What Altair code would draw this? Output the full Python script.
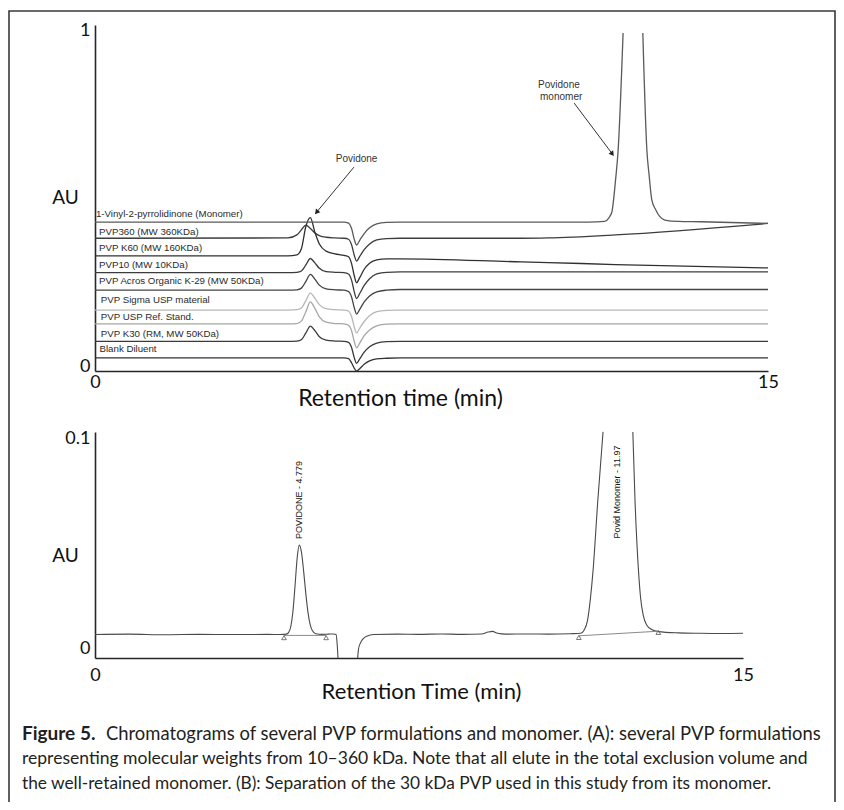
import altair as alt
import pandas as pd

# ---------------- Panel A : several PVP formulations ----------------
TRACE_LABELS = [
    "1-Vinyl-2-pyrrolidinone (Monomer)",
    "PVP360 (MW 360KDa)",
    "PVP K60 (MW 160KDa)",
    "PVP10 (MW 10KDa)",
    "PVP Acros Organic K-29 (MW 50KDa)",
    "PVP Sigma USP material",
    "PVP USP Ref. Stand.",
    "PVP K30 (RM, MW 50KDa)",
    "Blank Diluent",
]
TRACE_COLORS = ["#5a5a5a", "#3c3c3c", "#303030", "#3c3c3c", "#444444",
                "#b8b8b8", "#a6a6a6", "#3a3a3a", "#333333"]
LABEL_T = [0.02, 0.09, 0.09, 0.09, 0.09, 0.13, 0.13, 0.13, 0.10]
LABEL_AU = [0.454, 0.401, 0.353, 0.303, 0.255, 0.199, 0.148, 0.098, 0.053]

# shared retention-time grid (min) for the PVP traces
T_A = [0.0, 4.30, 4.50, 4.60, 4.70, 4.80, 4.90, 5.00, 5.15, 5.35, 5.55, 5.65, 5.72,
       5.78, 5.83, 5.90, 6.00, 6.12, 6.28, 6.50, 6.80, 9.50, 10.1, 11.6, 15.0]
PVP360 = [0.382, 0.383, 0.392, 0.407, 0.421, 0.411, 0.398, 0.390, 0.385, 0.383, 0.382, 0.379, 0.362,
          0.331, 0.314, 0.328, 0.348, 0.365, 0.377, 0.381, 0.382, 0.382, 0.383, 0.392, 0.426]
K60 = [0.330, 0.330, 0.333, 0.351, 0.417, 0.443, 0.400, 0.365, 0.344, 0.336, 0.331, 0.327, 0.306,
       0.270, 0.250, 0.265, 0.290, 0.308, 0.318, 0.321, 0.321, 0.312, 0.310, 0.304, 0.294]
PVP10 = [0.280, 0.280, 0.281, 0.285, 0.303, 0.322, 0.309, 0.293, 0.283, 0.281, 0.280, 0.276, 0.257,
         0.222, 0.203, 0.218, 0.242, 0.262, 0.276, 0.281, 0.282, 0.282, 0.282, 0.282, 0.282]
ACROS = [0.228, 0.228, 0.229, 0.234, 0.254, 0.275, 0.261, 0.243, 0.232, 0.229, 0.228, 0.224, 0.207,
         0.175, 0.157, 0.171, 0.193, 0.211, 0.223, 0.228, 0.230, 0.230, 0.230, 0.230, 0.230]
SIGMA = [0.169, 0.169, 0.170, 0.175, 0.197, 0.219, 0.204, 0.185, 0.173, 0.170, 0.169, 0.166, 0.149,
         0.118, 0.101, 0.115, 0.135, 0.152, 0.164, 0.168, 0.169, 0.169, 0.169, 0.169, 0.169]
USP = [0.128, 0.128, 0.129, 0.136, 0.164, 0.193, 0.174, 0.149, 0.133, 0.129, 0.128, 0.124, 0.107,
       0.075, 0.057, 0.071, 0.093, 0.110, 0.122, 0.127, 0.128, 0.128, 0.128, 0.128, 0.128]
K30 = [0.076, 0.076, 0.077, 0.081, 0.101, 0.121, 0.108, 0.090, 0.080, 0.077, 0.076, 0.073, 0.057,
       0.027, 0.011, 0.024, 0.044, 0.060, 0.071, 0.075, 0.076, 0.076, 0.076, 0.076, 0.076]
BLANK = [0.027, 0.027, 0.027, 0.027, 0.027, 0.027, 0.027, 0.027, 0.027, 0.027, 0.027, 0.025, 0.012,
         -0.004, -0.012, -0.005, 0.008, 0.018, 0.024, 0.026, 0.027, 0.027, 0.027, 0.027, 0.027]

# monomer trace: rising side (cut at the top) and falling side
MONO_T1 = [0.0, 5.55, 5.65, 5.72, 5.78, 5.83, 5.90, 6.00, 6.12, 6.28, 6.50, 6.80,
           11.0, 11.36, 11.45, 11.52, 11.60, 11.66, 11.77]
MONO_V1 = [0.430, 0.430, 0.427, 0.410, 0.378, 0.362, 0.376, 0.396, 0.413, 0.425, 0.429, 0.430,
           0.430, 0.432, 0.442, 0.460, 0.552, 0.644, 0.991]
MONO_T2 = [12.21, 12.30, 12.35, 12.41, 12.50, 12.59, 12.70, 13.00, 13.50, 15.0]
MONO_V2 = [0.991, 0.644, 0.570, 0.496, 0.466, 0.446, 0.436, 0.432, 0.431, 0.426]

ANN_TEXT = ["Povidone", "Povidone", "monomer"]
ANN_T = [5.83, 10.34, 10.39]
ANN_AU = [0.617, 0.837, 0.801]
ARROW_T = [5.77, 10.68]
ARROW_AU = [0.593, 0.783]
ARROW_T2 = [4.95, 11.52]
ARROW_AU2 = [0.461, 0.634]
ARROW_ANGLE = [220, 143]

# ---------------- Panel B : 30 kDa PVP and its monomer ----------------
B_T1 = [0.0, 0.8, 1.6, 2.4, 3.2, 4.0, 4.30, 4.43, 4.48, 4.53, 4.58, 4.63, 4.68, 4.73, 4.78,
        4.83, 4.88, 4.93, 4.98, 5.03, 5.11, 5.25, 5.40, 5.52, 5.58, 5.605, 5.625]
B_V1 = [0.0064, 0.0066, 0.0063, 0.0065, 0.0064, 0.0065, 0.0064, 0.0066, 0.0073, 0.0100, 0.0170,
        0.0294, 0.0429, 0.0490, 0.0455, 0.0365, 0.0259, 0.0170, 0.0113, 0.0083, 0.0068, 0.0065,
        0.0066, 0.0067, 0.0064, 0.0020, -0.0048]
B_T2 = [6.08, 6.10, 6.14, 6.20, 6.30, 6.45, 7.0, 7.5, 8.0, 8.5, 8.95, 9.10, 9.20, 9.32, 9.50,
        10.0, 10.5, 11.0, 11.24, 11.32, 11.40, 11.47, 11.53, 11.64, 11.76]
B_V2 = [-0.0048, -0.0005, 0.0022, 0.0042, 0.0057, 0.0064, 0.0066, 0.0065, 0.0067, 0.0065, 0.0067,
        0.0076, 0.0079, 0.0070, 0.0066, 0.0067, 0.0066, 0.0068, 0.0070, 0.0085, 0.0130, 0.0240,
        0.0371, 0.0705, 0.1029]
B_T3 = [12.45, 12.50, 12.58, 12.63, 12.69, 12.77, 12.89, 13.04, 13.5, 14.0, 14.5, 15.0]
B_V3 = [0.1029, 0.0705, 0.0371, 0.0238, 0.0157, 0.0110, 0.0088, 0.0078, 0.0072, 0.0070, 0.0069, 0.0070]

INT_T = [4.375, 11.20]
INT_AU = [0.0060, 0.0058]
INT_T2 = [5.35, 13.04]
INT_AU2 = [0.0060, 0.0080]
MARK_T = [4.375, 5.35, 11.20, 13.04]
MARK_AU = [0.0046, 0.0046, 0.0047, 0.0071]

PEAK_LABELS = ["POVIDONE - 4.779", "Povid Monomer - 11.97"]
PEAK_LABEL_T = [4.72, 12.08]
PEAK_LABEL_AU = [0.0705, 0.0743]

CAPTION_BOLD = "Figure 5."
CAPTION_LINES = [
    "Chromatograms of several PVP formulations and monomer. (A): several PVP formulations",
    "representing molecular weights from 10\u2013360 kDa. Note that all elute in the total exclusion volume and",
    "the well-retained monomer. (B): Separation of the 30 kDa PVP used in this study from its monomer.",
]

# ---------------- tables ----------------
rows = []
for name, vals in zip(TRACE_LABELS[1:], [PVP360, K60, PVP10, ACROS, SIGMA, USP, K30, BLANK]):
    for t, v in zip(T_A, vals):
        rows.append({"t": t, "au": v, "trace": name, "seg": name})
for t, v in zip(MONO_T1, MONO_V1):
    rows.append({"t": t, "au": v, "trace": TRACE_LABELS[0], "seg": "mono-a"})
for t, v in zip(MONO_T2, MONO_V2):
    rows.append({"t": t, "au": v, "trace": TRACE_LABELS[0], "seg": "mono-b"})
df_a = pd.DataFrame(rows)
df_a_lab = pd.DataFrame({"t": LABEL_T, "au": LABEL_AU, "label": TRACE_LABELS})
df_a_ann = pd.DataFrame({"t": ANN_T, "au": ANN_AU, "label": ANN_TEXT})
df_a_arr = pd.DataFrame({"t": ARROW_T, "au": ARROW_AU, "t2": ARROW_T2, "au2": ARROW_AU2,
                         "ang": ARROW_ANGLE})

brows = []
for seg, (ts, vs) in enumerate([(B_T1, B_V1), (B_T2, B_V2), (B_T3, B_V3)]):
    for t, v in zip(ts, vs):
        brows.append({"t": t, "au": v, "seg": seg})
df_b = pd.DataFrame(brows)
df_b_int = pd.DataFrame({"t": INT_T, "au": INT_AU, "t2": INT_T2, "au2": INT_AU2})
df_b_mark = pd.DataFrame({"t": MARK_T, "au": MARK_AU})
df_b_lab = pd.DataFrame({"t": PEAK_LABEL_T, "au": PEAK_LABEL_AU, "label": PEAK_LABELS})
one = pd.DataFrame({"k": [0]})

W, H = 828, 794
AX_FONT = "Lato"
TXT_FONT = "Liberation Sans, Arial, sans-serif"
CAP_FONT = "Lato, sans-serif"

# ---------------- scales / axes ----------------
sx_a = alt.Scale(domain=[0, 15], range=[87, 760], nice=False, zero=False)
sy_a = alt.Scale(domain=[-0.01187, 1.01484], range=[363, 17], nice=False, zero=False)
sx_b = alt.Scale(domain=[0, 15], range=[87, 735], nice=False, zero=False)
sy_b = alt.Scale(domain=[-0.00476, 0.10286], range=[650, 424], nice=False, zero=False)

common_axis = dict(grid=False, ticks=False, domainColor="#262626", domainWidth=1.6,
                   labelFont=AX_FONT, labelFontSize=18, labelColor="#111111",
                   labelFlush=False, labelOverlap=False,
                   titleFont=AX_FONT, titleFontWeight="normal", titleColor="#111111",
                   titleAlign="center", titleBaseline="middle")

ax_a_x = alt.Axis(values=[0, 15], format="d", title="Retention time (min)", orient="bottom",
                  offset=363 - H, labelPadding=2, titleFontSize=23, titleX=392, titleY=27,
                  **common_axis)
ax_a_y = alt.Axis(values=[0, 1], format="d", title="AU", orient="left", offset=-87, labelPadding=5,
                  titleFontSize=19, titleAngle=0, titleX=-30, titleY=189, **common_axis)
ax_b_x = alt.Axis(values=[0, 15], format="d", title="Retention Time (min)", orient="bottom",
                  offset=650 - H, labelPadding=8, titleFontSize=22, titleX=413, titleY=33,
                  **common_axis)
ax_b_y = alt.Axis(values=[0, 0.1], format=".1~f", title="AU", orient="left", offset=-87,
                  labelPadding=5, titleFontSize=19, titleAngle=0, titleX=-30, titleY=547,
                  **common_axis)

# ---------------- panel A ----------------
a_lines = alt.Chart(df_a).mark_line(interpolate="monotone", strokeWidth=1.3).encode(
    x=alt.X("t:Q", scale=sx_a, axis=ax_a_x),
    y=alt.Y("au:Q", scale=sy_a, axis=ax_a_y),
    color=alt.Color("trace:N", scale=alt.Scale(domain=TRACE_LABELS, range=TRACE_COLORS), legend=None),
    detail="seg:N",
)
a_labels = alt.Chart(df_a_lab).mark_text(align="left", baseline="middle", font=TXT_FONT,
                                          fontSize=9.7, color="#2a2a2a").encode(
    x=alt.X("t:Q", scale=sx_a, axis=None), y=alt.Y("au:Q", scale=sy_a, axis=None), text="label:N")
a_ann = alt.Chart(df_a_ann).mark_text(align="center", baseline="middle", font=TXT_FONT,
                                       fontSize=10, color="#333333").encode(
    x=alt.X("t:Q", scale=sx_a, axis=None), y=alt.Y("au:Q", scale=sy_a, axis=None), text="label:N")
a_arrow = alt.Chart(df_a_arr).mark_rule(color="#333333", strokeWidth=1).encode(
    x=alt.X("t:Q", scale=sx_a, axis=None), y=alt.Y("au:Q", scale=sy_a, axis=None),
    x2="t2:Q", y2="au2:Q")
a_head = alt.Chart(df_a_arr).mark_point(shape="triangle", filled=True, size=32, color="#222222",
                                         opacity=1).encode(
    x=alt.X("t2:Q", scale=sx_a, axis=None), y=alt.Y("au2:Q", scale=sy_a, axis=None),
    angle=alt.Angle("ang:Q", scale=None))

# ---------------- panel B ----------------
b_line = alt.Chart(df_b).mark_line(interpolate="monotone", strokeWidth=1.1, color="#4a4a4a").encode(
    x=alt.X("t:Q", scale=sx_b, axis=ax_b_x), y=alt.Y("au:Q", scale=sy_b, axis=ax_b_y), detail="seg:N")
b_int = alt.Chart(df_b_int).mark_rule(color="#8a8a8a", strokeWidth=1).encode(
    x=alt.X("t:Q", scale=sx_b, axis=None), y=alt.Y("au:Q", scale=sy_b, axis=None),
    x2="t2:Q", y2="au2:Q")
b_mark = alt.Chart(df_b_mark).mark_point(shape="triangle", filled=False, size=22, color="#6a6a6a",
                                          strokeWidth=0.9, opacity=1).encode(
    x=alt.X("t:Q", scale=sx_b, axis=None), y=alt.Y("au:Q", scale=sy_b, axis=None))
b_lab = alt.Chart(df_b_lab).mark_text(align="center", baseline="middle", angle=270, font=TXT_FONT,
                                       fontSize=9, color="#111111").encode(
    x=alt.X("t:Q", scale=sx_b, axis=None), y=alt.Y("au:Q", scale=sy_b, axis=None), text="label:N")

# ---------------- frame and caption ----------------
frame = alt.Chart(one).mark_rect(filled=False, stroke="#3a3a3a", strokeWidth=1.6).encode(
    x=alt.value(1), x2=alt.value(827), y=alt.value(3), y2=alt.value(880))
cap_bold = alt.Chart(one).mark_text(align="left", baseline="middle", font=CAP_FONT, fontSize=19,
                                     fontWeight="bold", color="#231f20").encode(
    x=alt.value(14), y=alt.value(726), text=alt.value(CAPTION_BOLD))
cap1 = alt.Chart(one).mark_text(align="left", baseline="middle", font=CAP_FONT, fontSize=18.4,
                                 color="#231f20").encode(
    x=alt.value(98), y=alt.value(726), text=alt.value(CAPTION_LINES[0]))
cap2 = alt.Chart(one).mark_text(align="left", baseline="middle", font=CAP_FONT, fontSize=17.55,
                                 color="#231f20").encode(
    x=alt.value(14), y=alt.value(751), text=alt.value(CAPTION_LINES[1]))
cap3 = alt.Chart(one).mark_text(align="left", baseline="middle", font=CAP_FONT, fontSize=17.3,
                                 color="#231f20").encode(
    x=alt.value(14), y=alt.value(776), text=alt.value(CAPTION_LINES[2]))

chart = alt.layer(
    frame, a_lines, a_labels, a_ann, a_arrow, a_head,
    b_line, b_int, b_mark, b_lab, cap_bold, cap1, cap2, cap3,
).resolve_scale(
    x="independent", y="independent", color="independent"
).resolve_axis(x="independent", y="independent").properties(
    width=W, height=H, padding=0, autosize=alt.AutoSizeParams(type="none"),
    background="white",
).configure_view(strokeWidth=0)

chart.save("out.html", embed_options={"renderer": "svg", "actions": False})
